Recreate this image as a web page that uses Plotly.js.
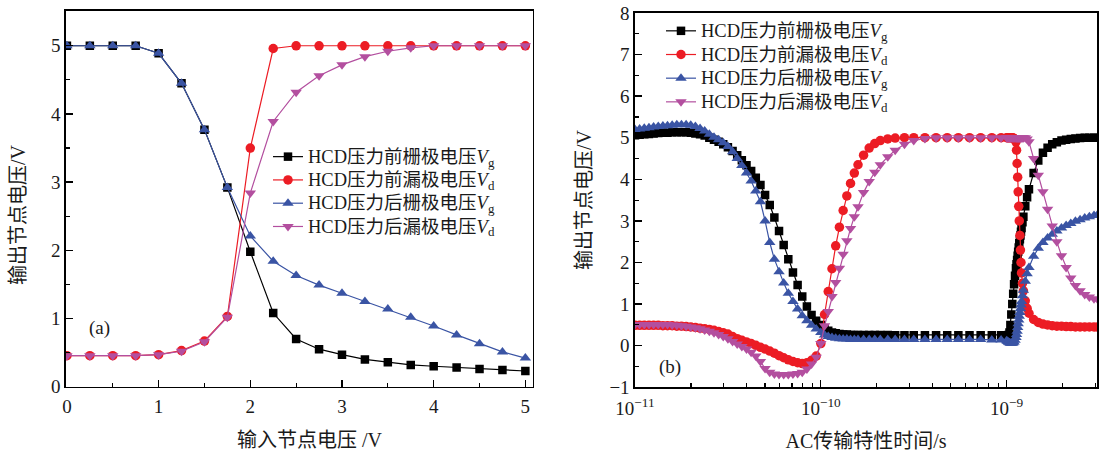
<!DOCTYPE html>
<html><head><meta charset="utf-8">
<script src="https://cdn.plot.ly/plotly-3.0.1.min.js"></script>
<style>html,body{margin:0;padding:0;background:#fff}#chart{width:1102px;height:453px}</style>
</head><body><div id="chart"></div>
<script>
// ---------- panel (a): DC transfer ----------
const inputVoltage = [0, 0.25, 0.5, 0.75, 1, 1.25, 1.5, 1.75, 2, 2.25, 2.5, 2.75, 3, 3.25, 3.5, 3.75, 4, 4.25, 4.5, 4.75, 5];
const gateBeforeDC  = [5.00, 5.00, 5.00, 5.00, 4.89, 4.45, 3.77, 2.92, 1.98, 1.08, 0.70, 0.55, 0.47, 0.40, 0.36, 0.32, 0.30, 0.28, 0.26, 0.245, 0.23];
const drainBeforeDC = [0.455, 0.455, 0.455, 0.455, 0.47, 0.53, 0.67, 1.03, 3.50, 4.96, 5.00, 5.00, 5.00, 5.00, 5.00, 5.00, 5.00, 5.00, 5.00, 5.00, 5.00];
const gateAfterDC   = [5.00, 5.00, 5.00, 5.00, 4.89, 4.45, 3.77, 2.92, 2.21, 1.84, 1.63, 1.49, 1.37, 1.25, 1.14, 1.02, 0.89, 0.76, 0.63, 0.51, 0.42];
const drainAfterDC  = [0.455, 0.455, 0.455, 0.455, 0.47, 0.52, 0.66, 1.02, 2.84, 3.89, 4.32, 4.56, 4.72, 4.84, 4.92, 4.97, 5.00, 5.00, 5.00, 5.00, 5.00];

// ---------- panel (b): AC transient ----------
const timeSeconds = [
  1.000e-11, 1.059e-11, 1.122e-11, 1.189e-11, 1.259e-11, 1.334e-11, 1.413e-11, 1.496e-11, 1.585e-11, 1.679e-11,
  1.778e-11, 1.884e-11, 1.995e-11, 2.113e-11, 2.239e-11, 2.371e-11, 2.512e-11, 2.661e-11, 2.818e-11, 2.985e-11,
  3.162e-11, 3.350e-11, 3.548e-11, 3.758e-11, 3.981e-11, 4.217e-11, 4.467e-11, 4.732e-11, 5.012e-11, 5.309e-11,
  5.623e-11, 5.957e-11, 6.310e-11, 6.683e-11, 7.079e-11, 7.499e-11, 7.943e-11, 8.414e-11, 8.913e-11, 9.441e-11,
  1.000e-10, 1.047e-10, 1.096e-10, 1.148e-10, 1.202e-10, 1.259e-10, 1.318e-10, 1.380e-10, 1.445e-10, 1.514e-10,
  1.585e-10, 1.698e-10, 1.820e-10, 1.950e-10, 2.089e-10, 2.291e-10, 2.512e-10, 2.818e-10, 3.162e-10, 3.631e-10,
  4.169e-10, 4.786e-10, 5.495e-10, 6.310e-10, 7.244e-10, 8.318e-10, 9.333e-10,
  1.000e-9, 1.012e-9, 1.023e-9, 1.035e-9, 1.047e-9, 1.059e-9, 1.072e-9, 1.084e-9, 1.096e-9, 1.109e-9,
  1.122e-9, 1.130e-9, 1.138e-9, 1.146e-9, 1.153e-9, 1.161e-9, 1.169e-9, 1.178e-9, 1.186e-9, 1.194e-9,
  1.202e-9, 1.216e-9, 1.230e-9, 1.259e-9, 1.288e-9, 1.318e-9, 1.396e-9, 1.479e-9, 1.567e-9, 1.660e-9,
  1.758e-9, 1.862e-9, 1.972e-9, 2.089e-9, 2.213e-9, 2.344e-9, 2.483e-9, 2.630e-9, 2.786e-9, 2.951e-9,
  3.090e-9
];
const gateBeforeAC = [
  5.06, 5.07, 5.08, 5.09, 5.10, 5.11, 5.12, 5.12, 5.13, 5.13,
  5.13, 5.13, 5.12, 5.10, 5.08, 5.05, 5.00, 4.95, 4.90, 4.84,
  4.77, 4.68, 4.58, 4.46, 4.34, 4.20, 4.04, 3.86, 3.62, 3.38,
  3.08, 2.76, 2.42, 2.08, 1.76, 1.46, 1.18, 0.94, 0.74, 0.60,
  0.50, 0.42, 0.36, 0.32, 0.30, 0.28, 0.27, 0.27, 0.26, 0.26,
  0.26, 0.26, 0.26, 0.26, 0.26, 0.26, 0.25, 0.25, 0.25, 0.25,
  0.25, 0.25, 0.25, 0.25, 0.25, 0.25, 0.25,
  0.25, 0.25, 0.26, 0.32, 0.50, 0.75, 1.00, 1.25, 1.48, 1.68,
  1.86, 1.96, 2.06, 2.16, 2.26, 2.36, 2.46, 2.56, 2.65, 2.74,
  2.83, 2.97, 3.10, 3.35, 3.57, 3.76, 4.15, 4.45, 4.64, 4.76,
  4.84, 4.89, 4.93, 4.95, 4.97, 4.98, 4.99, 5.00, 5.00, 5.00,
  5.00
];
const drainBeforeAC = [
  0.49, 0.49, 0.49, 0.49, 0.49, 0.49, 0.48, 0.48, 0.48, 0.47,
  0.47, 0.46, 0.45, 0.44, 0.42, 0.41, 0.39, 0.37, 0.34, 0.31,
  0.28, 0.22, 0.17, 0.13, 0.09, 0.05, 0.01, -0.04, -0.08, -0.13,
  -0.18, -0.24, -0.29, -0.34, -0.38, -0.41, -0.43, -0.41, -0.35, -0.25,
  0.05, 0.75, 1.30, 1.85, 2.40, 2.85, 3.25, 3.60, 3.90, 4.15,
  4.35, 4.58, 4.75, 4.86, 4.93, 4.97, 4.99, 5.00, 5.00, 5.00,
  5.00, 5.00, 5.00, 5.00, 5.00, 5.00, 5.00,
  5.00, 5.00, 5.00, 5.00, 5.00, 5.00, 5.00, 4.99, 4.98, 4.96,
  4.90, 4.70, 4.38, 4.05, 3.70, 3.35, 3.00, 2.65, 2.30, 2.00,
  1.75, 1.50, 1.32, 1.08, 0.90, 0.78, 0.63, 0.56, 0.52, 0.50,
  0.48, 0.47, 0.47, 0.46, 0.46, 0.45, 0.45, 0.45, 0.45, 0.45,
  0.45
];
const gateAfterAC = [
  5.20, 5.21, 5.23, 5.24, 5.26, 5.27, 5.28, 5.29, 5.30, 5.31,
  5.31, 5.31, 5.30, 5.27, 5.22, 5.16, 5.08, 5.01, 4.95, 4.88,
  4.79, 4.66, 4.50, 4.33, 4.15, 3.96, 3.72, 3.46, 3.00, 2.48,
  2.08, 1.78, 1.51, 1.26, 1.06, 0.88, 0.72, 0.60, 0.49, 0.40,
  0.32, 0.26, 0.22, 0.20, 0.18, 0.17, 0.16, 0.16, 0.15, 0.15,
  0.15, 0.15, 0.15, 0.15, 0.15, 0.15, 0.15, 0.15, 0.15, 0.15,
  0.15, 0.15, 0.15, 0.15, 0.15, 0.14, 0.14,
  0.12, 0.10, 0.08, 0.07, 0.06, 0.06, 0.06, 0.07, 0.09, 0.13,
  0.20, 0.27, 0.35, 0.44, 0.53, 0.62, 0.71, 0.80, 0.89, 0.98,
  1.06, 1.20, 1.33, 1.55, 1.73, 1.88, 2.15, 2.34, 2.48, 2.59,
  2.68, 2.76, 2.83, 2.89, 2.94, 2.99, 3.03, 3.07, 3.10, 3.13,
  3.15
];
const drainAfterAC = [
  0.51, 0.51, 0.51, 0.51, 0.51, 0.51, 0.51, 0.51, 0.50, 0.49,
  0.48, 0.47, 0.45, 0.43, 0.41, 0.38, 0.35, 0.31, 0.27, 0.22,
  0.17, 0.10, 0.04, -0.02, -0.08, -0.16, -0.25, -0.38, -0.55, -0.64,
  -0.68, -0.69, -0.69, -0.69, -0.68, -0.67, -0.64, -0.56, -0.44, -0.28,
  0.05, 0.48, 0.82, 1.18, 1.52, 1.86, 2.20, 2.52, 2.82, 3.10,
  3.34, 3.68, 3.95, 4.17, 4.35, 4.54, 4.70, 4.84, 4.93, 4.98,
  5.00, 5.00, 5.00, 5.00, 5.00, 5.00, 5.00,
  5.00, 5.00, 5.00, 5.00, 5.00, 5.00, 5.00, 5.00, 5.00, 5.00,
  5.00, 5.00, 5.00, 5.00, 5.00, 5.00, 5.00, 5.00, 5.00, 5.00,
  5.00, 5.00, 5.00, 5.00, 4.97, 4.90, 4.50, 4.10, 3.70, 3.28,
  2.88, 2.50, 2.16, 1.88, 1.63, 1.45, 1.32, 1.23, 1.17, 1.13,
  1.11
];

const seriesNames = [
  'HCD压力前栅极电压<i>V</i><sub>g</sub>',
  'HCD压力前漏极电压<i>V</i><sub>d</sub>',
  'HCD压力后栅极电压<i>V</i><sub>g</sub>',
  'HCD压力后漏极电压<i>V</i><sub>d</sub>'
];
const logTickVals = [1e-11, 1e-10, 1e-9];
const logTickText = ['10<sup>−11</sup>', '10<sup>−10</sup>', '10<sup>−9</sup>'];
const logMinorVals = [2e-11,3e-11,4e-11,5e-11,6e-11,7e-11,8e-11,9e-11,2e-10,3e-10,4e-10,5e-10,6e-10,7e-10,8e-10,9e-10,2e-9,3e-9];

const colors = ['#000000', '#ec1c24', '#3a54a4', '#b34f9f'];
const symbols = ['square', 'circle', 'triangle-up', 'triangle-down'];
const sizes = [8.5, 9.5, 10, 10];

const FONT = '"Liberation Serif", "Noto Sans CJK SC", serif';
const TXT = '#1a1a1a';
// legend text is drawn larger than the legend's base font so rows stay tight
const legendLabel = (s) => '<span style="font-size:18.5px">' + s + '</span>';

const dcSeries = [gateBeforeDC, drainBeforeDC, gateAfterDC, drainAfterDC];
const acSeries = [gateBeforeAC, drainBeforeAC, gateAfterAC, drainAfterAC];

const traces = [];
dcSeries.forEach((ys, i) => traces.push({
  x: inputVoltage, y: ys, type: 'scatter', mode: 'lines+markers', name: legendLabel(seriesNames[i]),
  xaxis: 'x', yaxis: 'y', legend: 'legend',
  line: {color: colors[i], width: 1.2},
  marker: {symbol: symbols[i], size: sizes[i], color: colors[i]}
}));
acSeries.forEach((ys, i) => traces.push({
  x: timeSeconds, y: ys, type: 'scatter', mode: 'lines+markers', name: legendLabel(seriesNames[i]),
  xaxis: 'x2', yaxis: 'y2', legend: 'legend2',
  line: {color: colors[i], width: 1.2},
  marker: {symbol: symbols[i], size: sizes[i], color: colors[i]}
}));

const W = 1102, H = 453;
const minorLin = {dtick: 0.5, tick0: 0, ticks: 'inside', ticklen: 4, tickwidth: 1.2, tickcolor: '#000'};
const axisCommon = {
  showline: true, linecolor: '#000', linewidth: 1.6, mirror: true,
  showgrid: false, zeroline: false,
  ticks: 'inside', ticklen: 7, tickwidth: 1.3, tickcolor: '#000',
  tickfont: {family: FONT, size: 19, color: TXT},
  automargin: false
};

const layout = {
  width: W, height: H,
  margin: {l: 0, r: 0, t: 0, b: 0},
  paper_bgcolor: '#fff', plot_bgcolor: '#fff',
  font: {family: FONT, size: 18, color: TXT},
  xaxis: Object.assign({}, axisCommon, {
    domain: [66 / W, 532.7 / W], range: [-0.01, 5.08], anchor: 'y',
    tickmode: 'array', tickvals: [0, 1, 2, 3, 4, 5], ticklabelstandoff: 2,
    minor: minorLin
  }),
  yaxis: Object.assign({}, axisCommon, {
    domain: [1 - 386.7 / H, 1 - 11 / H], range: [0, 5.51], anchor: 'x',
    tickmode: 'array', tickvals: [0, 1, 2, 3, 4, 5],
    minor: minorLin
  }),
  xaxis2: Object.assign({}, axisCommon, {
    type: 'log', domain: [635 / W, 1097 / W], range: [-11, -8.514], anchor: 'y2',
    tickmode: 'array', tickvals: logTickVals, ticktext: logTickText, ticklabelstandoff: 3,
    minor: {tickmode: 'array', tickvals: logMinorVals, ticks: 'inside', ticklen: 4, tickwidth: 1.2, tickcolor: '#000'},
    title: {text: 'AC传输特性时间/s', font: {family: FONT, size: 20, color: TXT}, standoff: 16}
  }),
  yaxis2: Object.assign({}, axisCommon, {
    domain: [1 - 387.3 / H, 1 - 12.9 / H], range: [-1, 8], anchor: 'x2',
    tickmode: 'array', tickvals: [-1, 0, 1, 2, 3, 4, 5, 6, 7, 8],
    minor: minorLin,
    title: {text: '输出节点电压/V', font: {family: FONT, size: 20, color: TXT}, standoff: 12}
  }),
  legend: {
    x: 268 / W, xanchor: 'left', y: 1 - 140 / H, yanchor: 'top',
    bgcolor: 'rgba(0,0,0,0)', borderwidth: 0, tracegroupgap: 0,
    font: {family: FONT, size: 15.6, color: TXT}
  },
  legend2: {
    x: 661 / W, xanchor: 'left', y: 1 - 14 / H, yanchor: 'top',
    bgcolor: 'rgba(0,0,0,0)', borderwidth: 0, tracegroupgap: 0,
    font: {family: FONT, size: 15.9, color: TXT}
  },
  showlegend: true,
  annotations: [
    {text: '输出节点电压/V', xref: 'paper', yref: 'paper', x: 18 / W, y: 1 - 215 / H,
     xanchor: 'center', yanchor: 'middle', textangle: -90, showarrow: false,
     font: {family: FONT, size: 20, color: TXT}},
    {text: '输入节点电压 /V', xref: 'paper', yref: 'paper', x: 310 / W, y: 1 - 440 / H,
     xanchor: 'center', yanchor: 'middle', showarrow: false,
     font: {family: FONT, size: 20, color: TXT}},
    {text: '(a)', xref: 'paper', yref: 'paper', x: 99 / W, y: 1 - 328 / H, xanchor: 'center', yanchor: 'middle',
     showarrow: false, font: {family: FONT, size: 19, color: TXT}},
    {text: '(b)', xref: 'paper', yref: 'paper', x: 670 / W, y: 1 - 367 / H, xanchor: 'center', yanchor: 'middle',
     showarrow: false, font: {family: FONT, size: 19, color: TXT}}
  ]
};

Plotly.newPlot('chart', traces, layout, {displayModeBar: false, staticPlot: true});
</script>
</body></html>
